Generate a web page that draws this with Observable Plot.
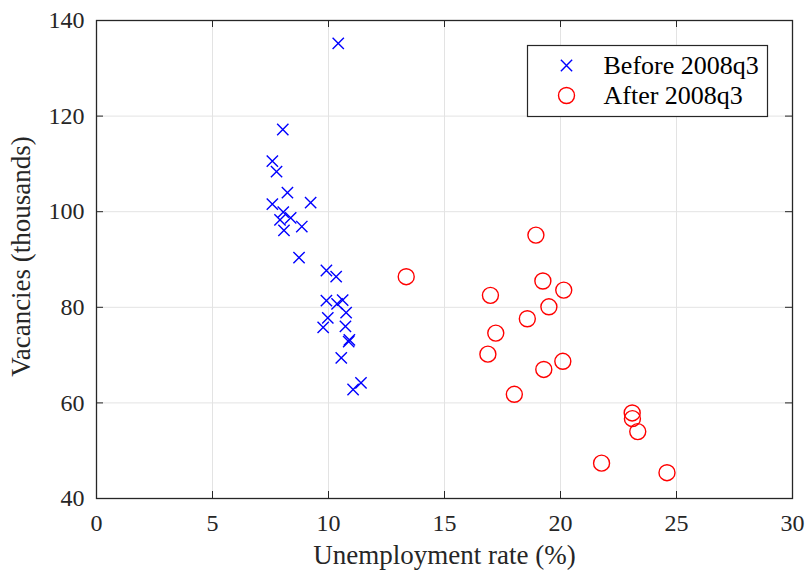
<!DOCTYPE html>
<html>
<head>
<meta charset="utf-8">
<script src="https://cdn.jsdelivr.net/npm/d3@7"></script>
<script src="https://cdn.jsdelivr.net/npm/@observablehq/plot@0.6"></script>
<style>
  html, body { margin: 0; padding: 0; background: #fff; }
  #chart svg { display: block; }
</style>
</head>
<body>
<div id="chart"></div>
<script>
// Before 2008q3: unemployment rate (%) and vacancies (thousands)
const beforeUnemp = [10.42, 8.03, 7.58, 7.76, 8.23, 7.58, 9.23, 8.05, 7.91, 8.37, 8.08, 8.85, 8.73,
  9.91, 10.33, 9.91, 10.61, 10.37, 10.76, 9.97, 9.77, 10.73, 10.90, 10.87, 10.55, 11.40, 11.06];
const beforeVac = [135.2, 117.2, 110.6, 108.4, 104.0, 101.6, 101.9, 99.9, 98.3, 98.7, 96.1, 96.9, 90.4,
  87.7, 86.4, 81.4, 81.5, 80.7, 78.9, 77.8, 75.8, 76.0, 73.2, 72.8, 69.4, 64.2, 62.8];
// After 2008q3
const afterUnemp = [18.94, 13.35, 19.24, 20.14, 16.98, 19.50, 18.57, 17.21, 16.87, 20.10, 19.28, 18.01,
  23.09, 23.10, 23.33, 21.77, 24.59];
const afterVac = [95.1, 86.4, 85.5, 83.6, 82.5, 80.1, 77.6, 74.6, 70.2, 68.7, 67.0, 61.8,
  57.9, 56.7, 54.0, 47.4, 45.4];

const xTicks = [0, 5, 10, 15, 20, 25, 30];
const yTicks = [40, 60, 80, 100, 120, 140];
const seriesNames = ["Before 2008q3", "After 2008q3"];
const xLabel = "Unemployment rate (%)";
const yLabel = "Vacancies (thousands)";

const before = beforeUnemp.map((u, i) => ({u, v: beforeVac[i]}));
const after = afterUnemp.map((u, i) => ({u, v: afterVac[i]}));

const W = 808, H = 575;
const mL = 96, mR = 16, mT = 20, mB = 77;
const pw = W - mL - mR, ph = H - mT - mB;
const tick = 7;
const ink = "#262626";
const grid = "#e3e3e3";
const blue = "#0000ff", red = "#ff0000";

const chart = Plot.plot({
  width: W,
  height: H,
  marginLeft: mL, marginRight: mR, marginTop: mT, marginBottom: mB,
  style: {fontFamily: "'Liberation Serif', 'Times New Roman', serif", background: "#fff", color: ink},
  x: {domain: [0, 30], ticks: xTicks},
  y: {domain: [40, 140], ticks: yTicks},
  marks: [
    Plot.gridX(xTicks, {stroke: grid, strokeOpacity: 1, strokeWidth: 1}),
    Plot.gridY(yTicks, {stroke: grid, strokeOpacity: 1, strokeWidth: 1}),
    // inward tick marks on all four sides
    Plot.ruleX(xTicks, {x: d => d, stroke: ink, insetTop: ph - tick}),
    Plot.ruleX(xTicks, {x: d => d, stroke: ink, insetBottom: ph - tick}),
    Plot.ruleY(yTicks, {y: d => d, stroke: ink, insetLeft: pw - tick}),
    Plot.ruleY(yTicks, {y: d => d, stroke: ink, insetRight: pw - tick}),
    Plot.axisX(xTicks, {tickSize: 0, tickPadding: 15, fontSize: 24, fill: ink, label: null}),
    Plot.axisY(yTicks, {tickSize: 0, tickPadding: 12, fontSize: 24, fill: ink, label: null}),
    Plot.text([xLabel], {frameAnchor: "bottom", lineAnchor: "middle", dy: 57, fontSize: 27, fill: ink}),
    Plot.text([yLabel], {frameAnchor: "left", textAnchor: "middle", lineAnchor: "middle", dx: -75, dy: -3, rotate: -90, fontSize: 27, fill: ink}),
    Plot.dot(before, {x: "u", y: "v", symbol: "times", r: 5.2, stroke: blue, strokeWidth: 1.4}),
    Plot.dot(after, {x: "u", y: "v", symbol: "circle", r: 8, stroke: red, strokeWidth: 1.4, fill: "none"}),
    Plot.frame({stroke: ink, strokeWidth: 1.3}),
    // legend box
    Plot.frame({fill: "#fff", stroke: ink, strokeWidth: 1.2, insetLeft: 431, insetTop: 25, insetRight: 25, insetBottom: 382}),
    Plot.dot([seriesNames[0]], {frameAnchor: "top-left", dx: 470, dy: 45, symbol: "times", r: 5.2, stroke: blue, strokeWidth: 1.4}),
    Plot.dot([seriesNames[1]], {frameAnchor: "top-left", dx: 470, dy: 75, symbol: "circle", r: 8, stroke: red, strokeWidth: 1.4, fill: "none"}),
    Plot.text([seriesNames[0]], {frameAnchor: "top-left", lineAnchor: "middle", dx: 507, dy: 45, textAnchor: "start", fontSize: 26, fill: "#000"}),
    Plot.text([seriesNames[1]], {frameAnchor: "top-left", lineAnchor: "middle", dx: 507, dy: 75, textAnchor: "start", fontSize: 26, fill: "#000"})
  ]
});
document.getElementById("chart").appendChild(chart);
</script>
</body>
</html>
